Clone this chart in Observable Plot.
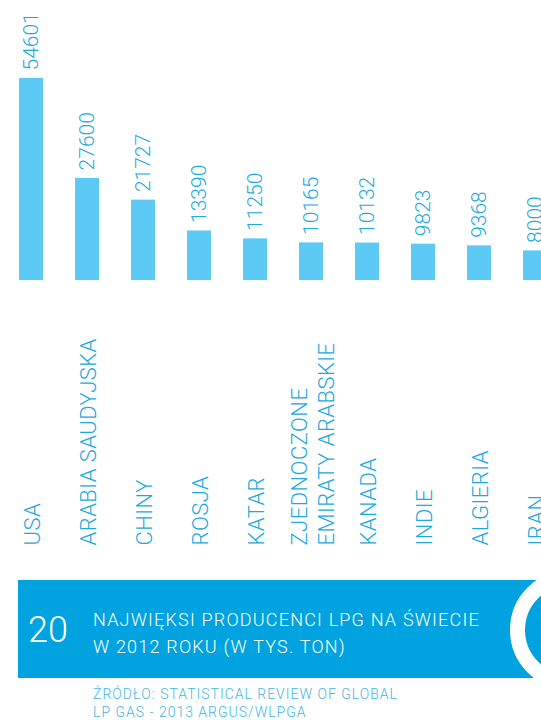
<!DOCTYPE html>
<html><head><meta charset="utf-8">
<script src="https://cdn.jsdelivr.net/npm/d3@7"></script>
<script src="https://cdn.jsdelivr.net/npm/@observablehq/plot@0.6"></script>
<style>
html,body{margin:0;padding:0;background:#fff;overflow:hidden;width:541px;height:720px}
#wrap{position:relative;width:541px;height:720px;overflow:hidden;font-family:Roboto,"Liberation Sans",sans-serif;font-weight:300}
#chart{position:absolute;left:0;top:0}
#banner{position:absolute;left:18px;top:580px;width:560px;height:98px;background:#00a3df}
#num{position:absolute;left:28px;top:612px;font-size:36px;line-height:36px;color:#fff;white-space:nowrap}
#title{position:absolute;left:93px;top:606px;font-size:18px;line-height:27px;letter-spacing:1.2px;color:#fff;white-space:nowrap}
#ring{position:absolute;left:510px;top:569.5px;width:120px;height:120px;box-sizing:border-box;border:15px solid #fff;border-radius:50%}
#source{position:absolute;left:93px;top:686px;font-size:14px;line-height:17.7px;letter-spacing:1px;color:#45b5e5;white-space:nowrap}
g[aria-description="categories"] text{letter-spacing:0.45px}
</style>
</head><body>
<div id="wrap">
  <div id="chart"></div>
  <div id="banner"></div>
  <div id="ring"></div>
  <div id="num"></div>
  <div id="title"></div>
  <div id="source"></div>
</div>
<script>
const countries = ["USA","ARABIA SAUDYJSKA","CHINY","ROSJA","KATAR","ZJEDNOCZONE\nEMIRATY ARABSKIE","KANADA","INDIE","ALGIERIA","IRAN"];
const values = [54601,27600,21727,13390,11250,10165,10132,9823,9368,8000];
const chartNumber = "20";
const titleLines = ["NAJWIĘKSI PRODUCENCI LPG NA ŚWIECIE","W 2012 ROKU (W TYS. TON)"];
const sourceLines = ["ŹRÓDŁO: STATISTICAL REVIEW OF GLOBAL","LP GAS - 2013 ARGUS/WLPGA"];

const data = countries.map((c,i)=>({country:c, value:values[i]}));
const barColor = "#5dcaf5";
const textColor = "#1ca9e1";

const plot = Plot.plot({
  width: 541,
  height: 560,
  marginTop: 0, marginBottom: 15, marginLeft: 0, marginRight: 0,
  style: {fontFamily: "Roboto, 'Liberation Sans', sans-serif", background: "transparent", overflow: "hidden"},
  x: {domain: countries, range: [3, 563], paddingInner: 4/7, paddingOuter: 2/7, align: 0.5, axis: null},
  y: {domain: [0, 54601], range: [280, 78], axis: null},
  marks: [
    Plot.barY(data, {x: "country", y: "value", fill: barColor}),
    Plot.text(data, {x: "country", y: "value", text: d => String(d.value), rotate: -90, textAnchor: "start", dy: -8, fill: textColor, fontSize: 21, fontWeight: 300, ariaDescription: "values"}),
    Plot.text(data, {x: "country", text: "country", frameAnchor: "bottom", rotate: -90, textAnchor: "start", lineAnchor: "middle", lineHeight: 1.25, fill: textColor, fontSize: 22, fontWeight: 300, ariaDescription: "categories"})
  ]
});
document.getElementById("chart").appendChild(plot);
document.getElementById("num").textContent = chartNumber;
document.getElementById("title").innerHTML = titleLines.join("<br>");
document.getElementById("source").innerHTML = sourceLines.join("<br>");
</script>
</body></html>
